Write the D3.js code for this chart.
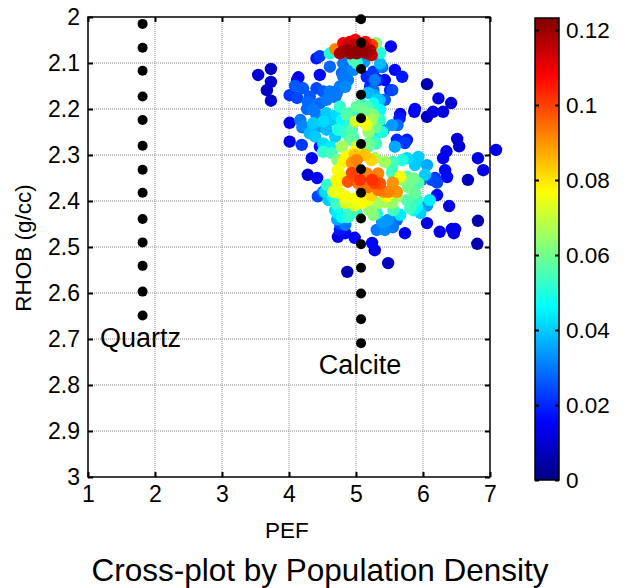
<!DOCTYPE html>
<html><head><meta charset="utf-8">
<script src="https://cdn.jsdelivr.net/npm/d3@7"></script>
<style>body{margin:0;background:#fff}svg{display:block;font-family:"Liberation Sans",Arial,sans-serif}</style>
</head><body><svg id="c" width="629" height="588"></svg>
<script>
const xTicks = [1,2,3,4,5,6,7];
const yTicks = [2,2.1,2.2,2.3,2.4,2.5,2.6,2.7,2.8,2.9,3];
const yTickLabels = ["2","2.1","2.2","2.3","2.4","2.5","2.6","2.7","2.8","2.9","3"];
const cTicks = [0,0.02,0.04,0.06,0.08,0.1,0.12];
const cTickLabels = ["0","0.02","0.04","0.06","0.08","0.1","0.12"];
const cMax = 0.1232;
const quartzPef = 1.815;
const quartzRhob = [2.015,2.067,2.117,2.173,2.224,2.28,2.332,2.382,2.439,2.49,2.541,2.597,2.649];
const calcitePef = 5.075;
const calciteRhob = [2.005,2.056,2.113,2.169,2.22,2.276,2.331,2.382,2.438,2.494,2.545,2.601,2.657,2.709];
// [PEF, RHOB, density]
const samples = [
[3.54,2.126,0.010],[3.73,2.113,0.008],[3.73,2.141,0.010],[3.67,2.159,0.008],[3.73,2.182,0.010],
[4.01,2.230,0.012],[4.01,2.271,0.012],[4.19,2.278,0.022],[4.34,2.307,0.014],[4.28,2.343,0.010],[4.42,2.350,0.016],
[4.41,2.090,0.018],[4.46,2.085,0.022],[4.14,2.131,0.012],[4.12,2.137,0.014],[4.46,2.126,0.016],
[4.01,2.170,0.022],[4.12,2.176,0.024],[4.09,2.150,0.026],[4.21,2.155,0.026],[4.20,2.240,0.028],[4.27,2.200,0.028],[4.28,2.185,0.028],
[5.52,2.064,0.015],[6.06,2.146,0.006],[6.23,2.177,0.012],[6.42,2.187,0.010],[6.30,2.206,0.012],[6.15,2.206,0.012],[6.06,2.217,0.008],[5.87,2.206,0.014],[5.66,2.211,0.014],
[6.51,2.265,0.010],[6.54,2.281,0.010],[7.09,2.289,0.012],[6.35,2.292,0.014],[6.30,2.307,0.014],[6.82,2.307,0.012],[6.90,2.333,0.012],[6.67,2.354,0.008],
[6.33,2.333,0.016],[6.36,2.348,0.016],[6.18,2.350,0.022],[6.21,2.360,0.024],[6.21,2.387,0.016],[6.39,2.411,0.012],[6.06,2.448,0.012],[6.25,2.467,0.012],[6.43,2.461,0.014],[6.48,2.461,0.012],[6.46,2.470,0.012],[6.81,2.493,0.006],[6.82,2.443,0.006],
[5.73,2.470,0.014],[5.48,2.535,0.008],[5.28,2.507,0.012],[5.24,2.491,0.016],[4.98,2.480,0.016],[4.73,2.478,0.012],[4.84,2.470,0.016],[4.76,2.463,0.018],[4.87,2.554,0.006],
[5.31,2.463,0.030],[5.43,2.463,0.032],[5.55,2.457,0.030],[5.39,2.446,0.034],[5.48,2.441,0.034],
[5.76,2.267,0.018],[5.73,2.274,0.022],[5.58,2.282,0.036],[5.91,2.309,0.036],[6.06,2.322,0.036],[6.03,2.343,0.040],[5.98,2.354,0.028],[6.13,2.354,0.024],[6.10,2.398,0.044],[6.06,2.410,0.034],
[4.76,2.079,0.118],[4.86,2.072,0.120],[4.96,2.075,0.121],[5.06,2.072,0.121],[5.16,2.079,0.119],[5.234,2.083,0.115],
[4.81,2.057,0.108],[4.91,2.054,0.110],[4.99,2.050,0.108],[5.14,2.054,0.106],[5.24,2.061,0.100],[4.69,2.070,0.092],[5.30,2.057,0.062],[4.61,2.079,0.050],[5.36,2.078,0.050],
[4.81,2.075,0.119],[4.91,2.079,0.120],[5.01,2.079,0.121],[5.11,2.075,0.120],[5.21,2.072,0.117],[4.86,2.061,0.113],[5.06,2.057,0.110],[4.96,2.061,0.115],[5.11,2.061,0.114],
[5.01,2.100,0.052],[4.96,2.093,0.055],[4.81,2.101,0.030],[5.36,2.101,0.038],[5.12,2.098,0.034],[4.61,2.108,0.028],[5.26,2.119,0.022],[5.16,2.130,0.020],[4.81,2.130,0.030],[4.86,2.119,0.030],[4.96,2.115,0.032],
[5.33,2.137,0.018],[5.43,2.137,0.016],[5.21,2.151,0.020],[5.26,2.159,0.028],[5.51,2.159,0.018],[4.76,2.151,0.030],[4.71,2.166,0.028],[4.61,2.162,0.030],[4.51,2.162,0.026],[4.41,2.155,0.024],[4.31,2.173,0.026],
[4.56,2.180,0.030],[4.46,2.188,0.028],[4.17,2.224,0.030],[4.21,2.238,0.032],[4.36,2.231,0.040],[4.51,2.227,0.042],[4.56,2.209,0.040],[4.76,2.195,0.052],[4.86,2.213,0.056],[4.91,2.209,0.054],
[5.01,2.195,0.058],[5.16,2.195,0.056],[5.26,2.188,0.048],[5.36,2.202,0.046],[5.31,2.180,0.040],[5.26,2.213,0.062],[5.23,2.224,0.066],[5.16,2.235,0.074],[5.36,2.224,0.052],[5.11,2.227,0.076],[4.99,2.227,0.072],
[4.79,2.122,0.028],[4.88,2.137,0.030],[4.84,2.152,0.032],[5.28,2.137,0.030],[5.54,2.159,0.024],[5.43,2.180,0.026],[5.58,2.115,0.016],[5.69,2.130,0.018],[5.39,2.109,0.030],[4.73,2.159,0.030],[4.69,2.174,0.030],
[5.18,2.165,0.038],[5.27,2.170,0.036],[5.35,2.180,0.038],[4.99,2.205,0.048],[4.89,2.213,0.046],
[4.36,2.202,0.030],[4.41,2.213,0.030],[4.46,2.238,0.034],[4.56,2.245,0.038],[4.66,2.224,0.040],[4.71,2.213,0.042],[4.79,2.224,0.046],[4.89,2.238,0.050],[5.11,2.206,0.060],[5.21,2.209,0.058],
[5.19,2.250,0.064],[5.29,2.240,0.058],[5.39,2.250,0.050],[5.54,2.235,0.034],[5.62,2.235,0.028],[5.88,2.200,0.016],[5.65,2.220,0.018],[5.09,2.190,0.052],[5.24,2.200,0.050],
[4.73,2.245,0.050],[4.84,2.250,0.052],[4.94,2.245,0.056],[4.79,2.282,0.066],[5.19,2.275,0.060],[5.30,2.275,0.054],
[4.36,2.238,0.036],[4.31,2.253,0.038],[4.39,2.260,0.040],[4.51,2.275,0.042],[4.61,2.282,0.044],[4.46,2.282,0.018],
[4.69,2.260,0.040],[4.86,2.253,0.052],[4.96,2.262,0.056],[4.91,2.267,0.058],[5.01,2.282,0.072],[5.18,2.282,0.058],[5.26,2.267,0.048],[5.31,2.253,0.036],[5.41,2.246,0.030],[5.61,2.267,0.020],
[4.51,2.293,0.052],[4.64,2.296,0.054],[4.72,2.311,0.062],[4.81,2.315,0.078],[4.86,2.304,0.076],[4.96,2.296,0.078],[4.98,2.300,0.084],[5.13,2.300,0.084],[4.94,2.317,0.090],[5.01,2.311,0.092],[5.23,2.311,0.082],
[5.28,2.307,0.066],[5.43,2.315,0.066],[5.55,2.315,0.054],[5.69,2.311,0.050],[5.76,2.307,0.042],[5.88,2.322,0.040],[5.93,2.304,0.040],[5.54,2.326,0.054],[5.54,2.339,0.054],
[4.73,2.333,0.076],[4.79,2.348,0.078],[4.94,2.339,0.100],[4.88,2.358,0.098],[5.03,2.361,0.094],[5.24,2.354,0.102],[5.28,2.361,0.100],[5.18,2.370,0.094],[5.33,2.376,0.094],[5.16,2.340,0.092],[5.33,2.340,0.092],
[5.06,2.354,0.102],[5.36,2.362,0.098],[5.48,2.380,0.092],[5.55,2.360,0.090],[5.61,2.380,0.090],[5.41,2.380,0.090],
[5.69,2.354,0.062],[5.78,2.370,0.060],[5.88,2.383,0.058],[5.93,2.361,0.056],[5.86,2.351,0.060],[5.76,2.347,0.056],[5.66,2.347,0.076],
[4.71,2.354,0.074],[4.57,2.365,0.052],[4.51,2.380,0.030],[4.54,2.380,0.042],[4.66,2.380,0.074],[4.73,2.359,0.078],[4.76,2.383,0.075],[4.84,2.390,0.076],[4.99,2.394,0.076],[5.11,2.390,0.078],[5.23,2.387,0.082],[5.46,2.390,0.076],[5.61,2.390,0.066],
[4.43,2.390,0.024],[4.66,2.393,0.046],[4.59,2.398,0.040],[4.71,2.405,0.054],[4.84,2.404,0.072],[4.98,2.409,0.074],[5.09,2.404,0.076],[5.18,2.398,0.074],[5.33,2.405,0.066],[5.43,2.402,0.066],[5.54,2.405,0.064],[5.76,2.398,0.056],[5.91,2.398,0.052],
[4.69,2.420,0.042],[4.73,2.413,0.048],[4.72,2.426,0.044],[4.79,2.435,0.046],[4.88,2.435,0.052],[4.91,2.420,0.054],[5.01,2.427,0.054],[5.20,2.420,0.064],[5.26,2.430,0.062],[5.31,2.427,0.048],[5.56,2.420,0.054],[5.66,2.430,0.044],
[5.81,2.415,0.054],[5.91,2.413,0.046],[5.96,2.426,0.040],[5.86,2.420,0.046],[5.61,2.441,0.028],[4.76,2.449,0.024],[4.84,2.452,0.030],[4.72,2.440,0.036],[5.46,2.449,0.030]
];

const svg = d3.select("#c");
const plot = {l:88, r:490, t:17, b:477};
const x = d3.scaleLinear().domain([1,7]).range([plot.l, plot.r]);
const y = d3.scaleLinear().domain([2,3]).range([plot.t, plot.b]);
const jetStops = [0,0.125,0.375,0.625,0.875,1];
const jetColors = ["#000080","#0000ff","#00ffff","#ffff00","#ff0000","#800000"];
const color = d3.scaleLinear().domain(jetStops.map(f => f*cMax)).range(jetColors).clamp(true);
const FONT = "Liberation Sans, Arial, sans-serif";

// grid
const g = svg.append("g");
g.selectAll(".gx").data(xTicks.slice(1,-1)).join("line")
  .attr("x1", d=>x(d)).attr("x2", d=>x(d)).attr("y1", plot.t).attr("y2", plot.b)
  .attr("stroke","#8c8c8c").attr("stroke-width",1).attr("stroke-dasharray","1,1");
g.selectAll(".gy").data(yTicks.slice(1,-1)).join("line")
  .attr("y1", d=>y(d)).attr("y2", d=>y(d)).attr("x1", plot.l).attr("x2", plot.r)
  .attr("stroke","#8c8c8c").attr("stroke-width",1).attr("stroke-dasharray","1,1");

// axes
const tl = 5;
const ax = svg.append("g");
ax.append("g").attr("transform",`translate(0,${plot.b})`)
  .call(d3.axisBottom(x).tickValues(xTicks).tickSize(-tl).tickPadding(9).tickFormat(d3.format("d")));
ax.append("g").attr("transform",`translate(0,${plot.t})`)
  .call(d3.axisTop(x).tickValues(xTicks).tickSize(-tl).tickFormat(""));
ax.append("g").attr("transform",`translate(${plot.l},0)`)
  .call(d3.axisLeft(y).tickValues(yTicks).tickSize(-tl).tickPadding(8).tickFormat((d,i)=>yTickLabels[i]));
ax.append("g").attr("transform",`translate(${plot.r},0)`)
  .call(d3.axisRight(y).tickValues(yTicks).tickSize(-tl).tickFormat(""));
ax.selectAll(".domain").remove();
ax.selectAll(".tick line").attr("stroke","#000").attr("stroke-width",2);
ax.selectAll(".tick text").attr("font-size",23).attr("fill","#000").attr("font-family",FONT);
svg.append("rect").attr("x",plot.l).attr("y",plot.t).attr("width",plot.r-plot.l).attr("height",plot.b-plot.t)
  .attr("fill","none").attr("stroke","#000").attr("stroke-width",1.5);

// samples, low density first
const sorted = samples.slice().sort((a,b)=>a[2]-b[2]);
svg.append("g").selectAll("circle").data(sorted).join("circle")
  .attr("cx", d=>x(d[0])).attr("cy", d=>y(d[1])).attr("r", 6.2)
  .attr("fill", d=>color(d[2]));

// mineral lines
svg.append("g").selectAll("circle").data(quartzRhob).join("circle")
  .attr("cx", x(quartzPef)).attr("cy", d=>y(d)).attr("r",5).attr("fill","#000");
svg.append("g").selectAll("circle").data(calciteRhob).join("circle")
  .attr("cx", x(calcitePef)).attr("cy", d=>y(d)).attr("r",5).attr("fill","#000");

svg.append("text").attr("x", x(1.18)).attr("y", 347).attr("font-size",27).attr("font-family",FONT).text("Quartz");
svg.append("text").attr("x", 360).attr("y", 374).attr("font-size",27).attr("font-family",FONT).attr("text-anchor","middle").text("Calcite");

// axis labels
svg.append("text").attr("x", 287).attr("y", 538).attr("font-size",22.5).attr("font-family",FONT).attr("text-anchor","middle").text("PEF");
svg.append("text").attr("transform",`translate(31,248) rotate(-90)`).attr("font-size",22.5).attr("font-family",FONT).attr("text-anchor","middle").text("RHOB (g/cc)");
svg.append("text").attr("x", 320).attr("y", 581).attr("font-size",31.5).attr("font-family",FONT).attr("text-anchor","middle").text("Cross-plot by Population Density");

// colorbar
const cb = {l:535, r:559, t:18, b:480};
const cy = d3.scaleLinear().domain([0,cMax]).range([cb.b, cb.t]);
const defs = svg.append("defs");
const grad = defs.append("linearGradient").attr("id","jet").attr("x1",0).attr("y1",1).attr("x2",0).attr("y2",0);
grad.selectAll("stop").data(jetStops).join("stop").attr("offset",d=>d).attr("stop-color",(d,i)=>jetColors[i]);
svg.append("rect").attr("x",cb.l).attr("y",cb.t).attr("width",cb.r-cb.l).attr("height",cb.b-cb.t).attr("fill","url(#jet)");
const cax = svg.append("g");
cax.append("g").attr("transform",`translate(${cb.r},0)`)
  .call(d3.axisRight(cy).tickValues(cTicks).tickSize(-4).tickPadding(7).tickFormat((d,i)=>cTickLabels[i]));
cax.append("g").attr("transform",`translate(${cb.l},0)`)
  .call(d3.axisLeft(cy).tickValues(cTicks).tickSize(-4).tickFormat(""));
cax.selectAll(".domain").remove();
cax.selectAll(".tick line").attr("stroke","#000").attr("stroke-width",2);
cax.selectAll(".tick text").attr("font-size",22.5).attr("fill","#000").attr("font-family",FONT);
svg.append("rect").attr("x",cb.l).attr("y",cb.t).attr("width",cb.r-cb.l).attr("height",cb.b-cb.t)
  .attr("fill","none").attr("stroke","#000").attr("stroke-width",1.5);
</script></body></html>
